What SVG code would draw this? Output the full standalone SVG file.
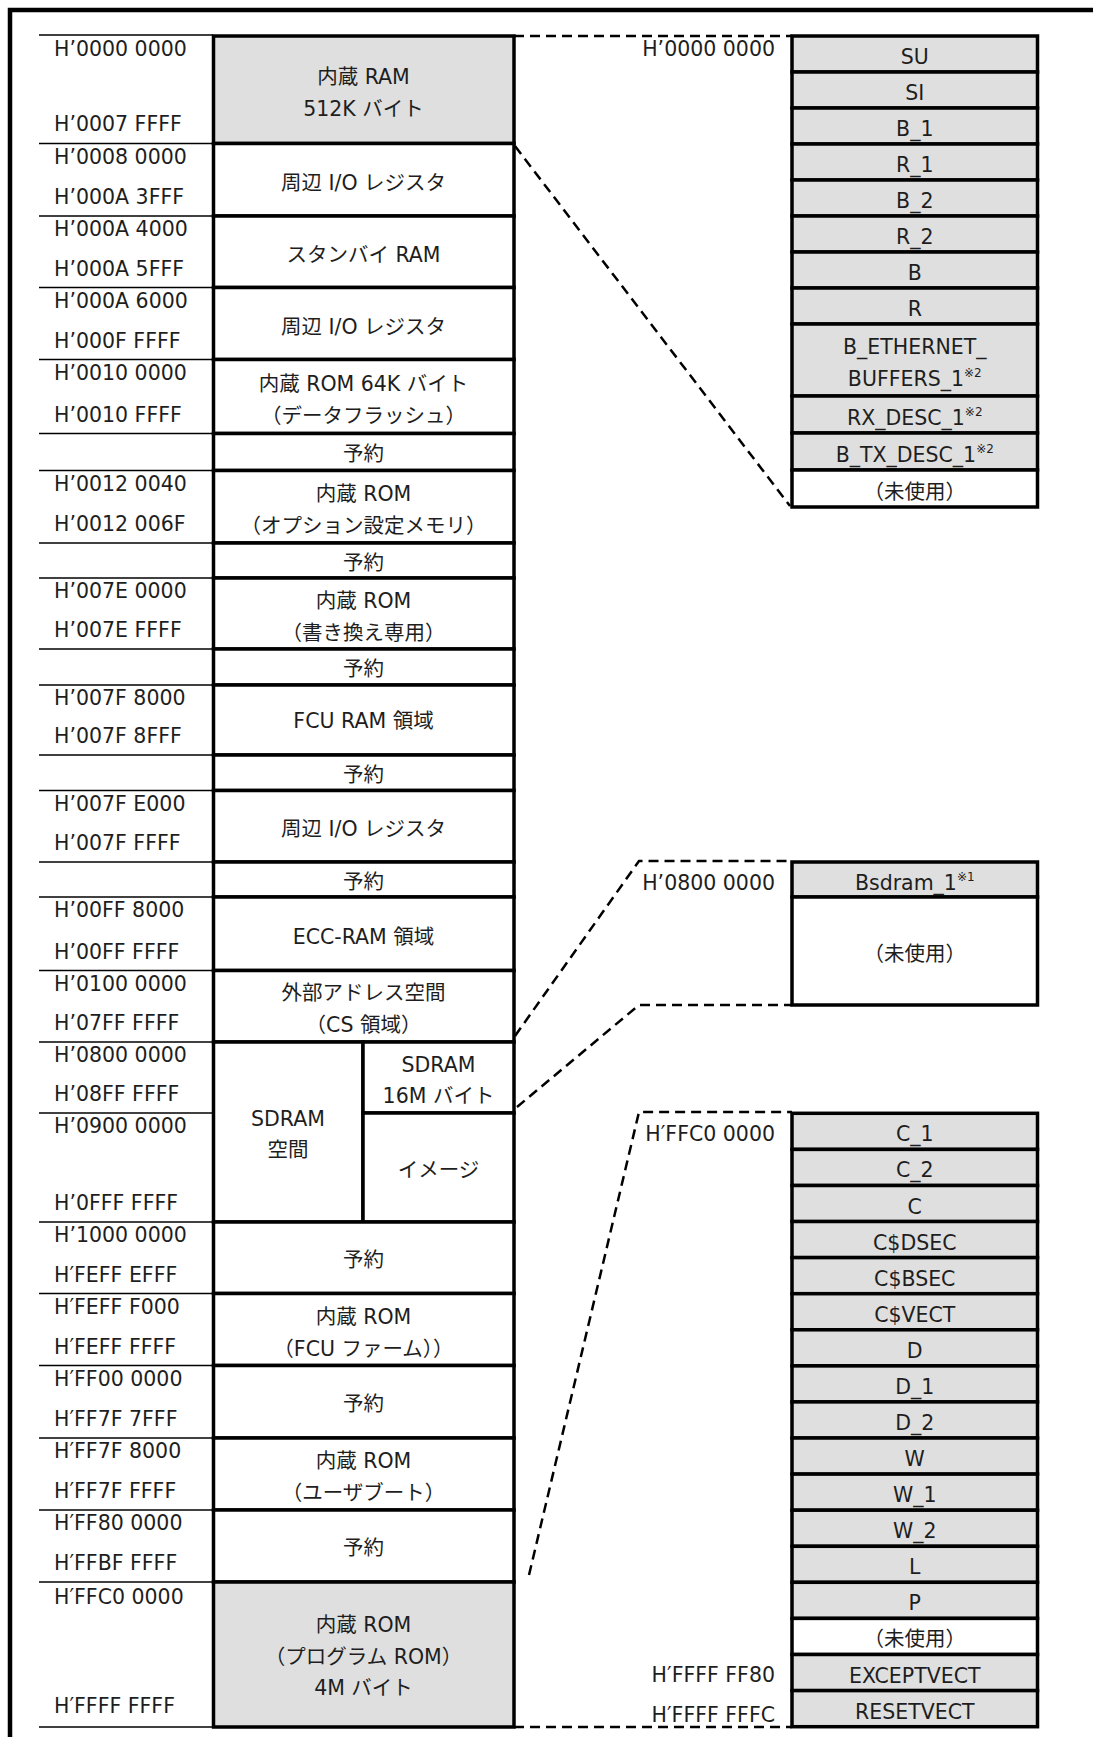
<svg xmlns="http://www.w3.org/2000/svg" width="1093" height="1737" viewBox="0 0 1093 1737">
<style>
.t{font-family:"DejaVu Sans","Noto Sans CJK JP",sans-serif;font-size:20.5px;fill:#1e1e1e}
.c{text-anchor:middle}
.r{text-anchor:end}
.b{stroke:#000;stroke-width:3.5;fill:#fff}
.g{fill:#dfdfdf}
.pl{stroke:#000;stroke-width:1.6}
.al{stroke:#000;stroke-width:1.4}
.d{stroke:#000;stroke-width:2.5;stroke-dasharray:10 6;fill:none}
.s{font-size:12px}
</style>
<rect width="1093" height="1737" fill="#fff"/>
<path d="M10,1740 V10 H1096" fill="none" stroke="#000" stroke-width="4.5"/>

<g id="address-lines">
<line class="al" x1="39" x2="213" y1="35" y2="35"/>
<line class="al" x1="39" x2="213" y1="143.5" y2="143.5"/>
<line class="al" x1="39" x2="213" y1="216" y2="216"/>
<line class="al" x1="39" x2="213" y1="287.5" y2="287.5"/>
<line class="al" x1="39" x2="213" y1="359.5" y2="359.5"/>
<line class="al" x1="39" x2="213" y1="433.5" y2="433.5"/>
<line class="al" x1="39" x2="213" y1="470.5" y2="470.5"/>
<line class="al" x1="39" x2="213" y1="543" y2="543"/>
<line class="al" x1="39" x2="213" y1="578" y2="578"/>
<line class="al" x1="39" x2="213" y1="649" y2="649"/>
<line class="al" x1="39" x2="213" y1="685" y2="685"/>
<line class="al" x1="39" x2="213" y1="755" y2="755"/>
<line class="al" x1="39" x2="213" y1="790.5" y2="790.5"/>
<line class="al" x1="39" x2="213" y1="862" y2="862"/>
<line class="al" x1="39" x2="213" y1="897" y2="897"/>
<line class="al" x1="39" x2="213" y1="970.5" y2="970.5"/>
<line class="al" x1="39" x2="213" y1="1042" y2="1042"/>
<line class="al" x1="39" x2="213" y1="1113" y2="1113"/>
<line class="al" x1="39" x2="213" y1="1222" y2="1222"/>
<line class="al" x1="39" x2="213" y1="1293.5" y2="1293.5"/>
<line class="al" x1="39" x2="213" y1="1365.5" y2="1365.5"/>
<line class="al" x1="39" x2="213" y1="1438" y2="1438"/>
<line class="al" x1="39" x2="213" y1="1510" y2="1510"/>
<line class="al" x1="39" x2="213" y1="1582" y2="1582"/>
<line class="al" x1="39" x2="213" y1="1727" y2="1727"/>
</g>

<g id="address-labels" class="t">
<text x="54" y="56">H’0000 0000</text><text x="54" y="131">H’0007 FFFF</text>
<text x="54" y="163.5">H’0008 0000</text><text x="54" y="204">H’000A 3FFF</text>
<text x="54" y="236">H’000A 4000</text><text x="54" y="275.5">H’000A 5FFF</text>
<text x="54" y="307.5">H’000A 6000</text><text x="54" y="347.5">H’000F FFFF</text>
<text x="54" y="379.5">H’0010 0000</text><text x="54" y="421.5">H’0010 FFFF</text>
<text x="54" y="491">H’0012 0040</text><text x="54" y="531">H’0012 006F</text>
<text x="54" y="598">H’007E 0000</text><text x="54" y="637">H’007E FFFF</text>
<text x="54" y="705">H’007F 8000</text><text x="54" y="743">H’007F 8FFF</text>
<text x="54" y="810.5">H’007F E000</text><text x="54" y="850">H’007F FFFF</text>
<text x="54" y="917">H’00FF 8000</text><text x="54" y="958.5">H’00FF FFFF</text>
<text x="54" y="990.5">H’0100 0000</text><text x="54" y="1030">H’07FF FFFF</text>
<text x="54" y="1062">H’0800 0000</text><text x="54" y="1101">H’08FF FFFF</text>
<text x="54" y="1133">H’0900 0000</text><text x="54" y="1210">H’0FFF FFFF</text>
<text x="54" y="1242">H’1000 0000</text><text x="54" y="1281.5">H′FEFF EFFF</text>
<text x="54" y="1313.5">H′FEFF F000</text><text x="54" y="1353.5">H′FEFF FFFF</text>
<text x="54" y="1385.5">H′FF00 0000</text><text x="54" y="1426">H′FF7F 7FFF</text>
<text x="54" y="1458">H′FF7F 8000</text><text x="54" y="1498">H′FF7F FFFF</text>
<text x="54" y="1530">H′FF80 0000</text><text x="54" y="1570">H′FFBF FFFF</text>
<text x="54" y="1604">H′FFC0 0000</text><text x="54" y="1713">H′FFFF FFFF</text>
</g>

<g id="connectors">
<path class="d" d="M514,36 H792"/>
<path class="d" d="M515,146 L790,506"/>
<path class="d" d="M515,1036 L639,861 H792"/>
<path class="d" d="M517,1107 L639,1005 H792"/>
<path class="d" d="M529,1575 L639,1112 H792"/>
<path class="d" d="M514,1727 H792"/>
</g>

<g id="main-map" class="t">
<g id="m-ram"><rect class="b g" x="213.5" y="36" width="300.5" height="107.5"/><text class="c" x="363.5" y="83.75">内蔵 RAM</text><text class="c" x="363.5" y="115.75">512K バイト</text></g>
<g id="m-io1"><rect class="b" x="213.5" y="143.5" width="300.5" height="72.5"/><text class="c" x="363.5" y="189.75">周辺 I/O レジスタ</text></g>
<g id="m-sbram"><rect class="b" x="213.5" y="216" width="300.5" height="71.5"/><text class="c" x="363.5" y="261.75">スタンバイ RAM</text></g>
<g id="m-io2"><rect class="b" x="213.5" y="287.5" width="300.5" height="72"/><text class="c" x="363.5" y="333.5">周辺 I/O レジスタ</text></g>
<g id="m-dflash"><rect class="b" x="213.5" y="359.5" width="300.5" height="74"/><text class="c" x="363.5" y="390.5">内蔵 ROM 64K バイト</text><text class="c" x="363.5" y="422.5">（データフラッシュ）</text></g>
<g id="m-rsv1"><rect class="b" x="213.5" y="433.5" width="300.5" height="37"/><text class="c" x="363.5" y="461">予約</text></g>
<g id="m-opt"><rect class="b" x="213.5" y="470.5" width="300.5" height="72.5"/><text class="c" x="363.5" y="500.75">内蔵 ROM</text><text class="c" x="363.5" y="532.75">（オプション設定メモリ）</text></g>
<g id="m-rsv2"><rect class="b" x="213.5" y="543" width="300.5" height="35"/><text class="c" x="363.5" y="569.5">予約</text></g>
<g id="m-rewrite"><rect class="b" x="213.5" y="578" width="300.5" height="71"/><text class="c" x="363.5" y="607.5">内蔵 ROM</text><text class="c" x="363.5" y="639.5">（書き換え専用）</text></g>
<g id="m-rsv3"><rect class="b" x="213.5" y="649" width="300.5" height="36"/><text class="c" x="363.5" y="676">予約</text></g>
<g id="m-fcuram"><rect class="b" x="213.5" y="685" width="300.5" height="70"/><text class="c" x="363.5" y="728">FCU RAM 領域</text></g>
<g id="m-rsv4"><rect class="b" x="213.5" y="755" width="300.5" height="35.5"/><text class="c" x="363.5" y="781.5">予約</text></g>
<g id="m-io3"><rect class="b" x="213.5" y="790.5" width="300.5" height="71.5"/><text class="c" x="363.5" y="836">周辺 I/O レジスタ</text></g>
<g id="m-rsv5"><rect class="b" x="213.5" y="862" width="300.5" height="35"/><text class="c" x="363.5" y="888.5">予約</text></g>
<g id="m-ecc"><rect class="b" x="213.5" y="897" width="300.5" height="73.5"/><text class="c" x="363.5" y="943.5">ECC-RAM 領域</text></g>
<g id="m-ext"><rect class="b" x="213.5" y="970.5" width="300.5" height="71.5"/><text class="c" x="363.5" y="999.5">外部アドレス空間</text><text class="c" x="363.5" y="1031.5">（CS 領域）</text></g>
<g id="m-sdram"><rect class="b" x="213.5" y="1042" width="149.5" height="180"/><text class="c" x="288" y="1126">SDRAM</text><text class="c" x="288" y="1157">空間</text></g>
<g id="m-sdram16"><rect class="b" x="363" y="1042" width="151" height="71"/><text class="c" x="438.5" y="1071.5">SDRAM</text><text class="c" x="438.5" y="1103">16M バイト</text></g>
<g id="m-image"><rect class="b" x="363" y="1113" width="151" height="109"/><text class="c" x="438.5" y="1176.5">イメージ</text></g>
<g id="m-rsv6"><rect class="b" x="213.5" y="1222" width="300.5" height="71.5"/><text class="c" x="363.5" y="1267">予約</text></g>
<g id="m-fcufw"><rect class="b" x="213.5" y="1293.5" width="300.5" height="72"/><text class="c" x="363.5" y="1323.5">内蔵 ROM</text><text class="c" x="363.5" y="1356">（FCU ファーム））</text></g>
<g id="m-rsv7"><rect class="b" x="213.5" y="1365.5" width="300.5" height="72.5"/><text class="c" x="363.5" y="1410.5">予約</text></g>
<g id="m-uboot"><rect class="b" x="213.5" y="1438" width="300.5" height="72"/><text class="c" x="363.5" y="1467.5">内蔵 ROM</text><text class="c" x="363.5" y="1500">（ユーザブート）</text></g>
<g id="m-rsv8"><rect class="b" x="213.5" y="1510" width="300.5" height="72"/><text class="c" x="363.5" y="1554.5">予約</text></g>
<g id="m-prog"><rect class="b g" x="213.5" y="1582" width="300.5" height="145"/><text class="c" x="363.5" y="1632">内蔵 ROM</text><text class="c" x="363.5" y="1664">（プログラム ROM）</text><text class="c" x="363.5" y="1695">4M バイト</text></g>
</g>

<g id="ram-sections" class="t">
<text class="r" x="775" y="56">H’0000 0000</text>
<g id="p1-su"><rect class="b g" x="792" y="36" width="245.5" height="36"/><text class="c" x="914.75" y="64">SU</text></g>
<g id="p1-si"><rect class="b g" x="792" y="72" width="245.5" height="36"/><text class="c" x="914.75" y="100">SI</text></g>
<g id="p1-b1"><rect class="b g" x="792" y="108" width="245.5" height="36"/><text class="c" x="914.75" y="136">B_1</text></g>
<g id="p1-r1"><rect class="b g" x="792" y="144" width="245.5" height="36"/><text class="c" x="914.75" y="172">R_1</text></g>
<g id="p1-b2"><rect class="b g" x="792" y="180" width="245.5" height="36"/><text class="c" x="914.75" y="208">B_2</text></g>
<g id="p1-r2"><rect class="b g" x="792" y="216" width="245.5" height="36"/><text class="c" x="914.75" y="244">R_2</text></g>
<g id="p1-b"><rect class="b g" x="792" y="252" width="245.5" height="36"/><text class="c" x="914.75" y="280">B</text></g>
<g id="p1-r"><rect class="b g" x="792" y="288" width="245.5" height="36"/><text class="c" x="914.75" y="316">R</text></g>
<g id="p1-eth"><rect class="b g" x="792" y="324" width="245.5" height="72"/><text class="c" x="914.75" y="354">B_ETHERNET_</text><text class="c" x="914.75" y="386">BUFFERS_1<tspan class="s" dy="-9">※2</tspan></text></g>
<g id="p1-rx"><rect class="b g" x="792" y="396" width="245.5" height="37"/><text class="c" x="914.75" y="424.5">RX_DESC_1<tspan class="s" dy="-9">※2</tspan></text></g>
<g id="p1-tx"><rect class="b g" x="792" y="433" width="245.5" height="37"/><text class="c" x="914.75" y="461.5">B_TX_DESC_1<tspan class="s" dy="-9">※2</tspan></text></g>
<g id="p1-unused"><rect class="b" x="792" y="470" width="245.5" height="37"/><text class="c" x="914.75" y="498.5">（未使用）</text></g>
</g>

<g id="sdram-sections" class="t">
<text class="r" x="775" y="890">H’0800 0000</text>
<g id="p2-bsdram"><rect class="b g" x="792" y="862" width="245.5" height="35"/><text class="c" x="914.75" y="889.5">Bsdram_1<tspan class="s" dy="-9">※1</tspan></text></g>
<g id="p2-unused"><rect class="b" x="792" y="897" width="245.5" height="108"/><text class="c" x="914.75" y="961">（未使用）</text></g>
</g>

<g id="rom-sections" class="t">
<text class="r" x="775" y="1141">H′FFC0 0000</text>
<text class="r" x="775" y="1682">H′FFFF FF80</text>
<text class="r" x="775" y="1721.5">H′FFFF FFFC</text>
<g id="p3-c1"><rect class="b g" x="792" y="1113.3" width="245.5" height="36.1"/><text class="c" x="914.75" y="1141.3">C_1</text></g>
<g id="p3-c2"><rect class="b g" x="792" y="1149.4" width="245.5" height="36.1"/><text class="c" x="914.75" y="1177.4">C_2</text></g>
<g id="p3-c"><rect class="b g" x="792" y="1185.5" width="245.5" height="36.1"/><text class="c" x="914.75" y="1213.5">C</text></g>
<g id="p3-cdsec"><rect class="b g" x="792" y="1221.5" width="245.5" height="36.1"/><text class="c" x="914.75" y="1249.5">C$DSEC</text></g>
<g id="p3-cbsec"><rect class="b g" x="792" y="1257.6" width="245.5" height="36.1"/><text class="c" x="914.75" y="1285.6">C$BSEC</text></g>
<g id="p3-cvect"><rect class="b g" x="792" y="1293.7" width="245.5" height="36.1"/><text class="c" x="914.75" y="1321.7">C$VECT</text></g>
<g id="p3-d"><rect class="b g" x="792" y="1329.8" width="245.5" height="36.1"/><text class="c" x="914.75" y="1357.8">D</text></g>
<g id="p3-d1"><rect class="b g" x="792" y="1365.9" width="245.5" height="36.1"/><text class="c" x="914.75" y="1393.9">D_1</text></g>
<g id="p3-d2"><rect class="b g" x="792" y="1401.9" width="245.5" height="36.1"/><text class="c" x="914.75" y="1429.9">D_2</text></g>
<g id="p3-w"><rect class="b g" x="792" y="1438" width="245.5" height="36.1"/><text class="c" x="914.75" y="1466">W</text></g>
<g id="p3-w1"><rect class="b g" x="792" y="1474.1" width="245.5" height="36.1"/><text class="c" x="914.75" y="1502.1">W_1</text></g>
<g id="p3-w2"><rect class="b g" x="792" y="1510.2" width="245.5" height="36.1"/><text class="c" x="914.75" y="1538.2">W_2</text></g>
<g id="p3-l"><rect class="b g" x="792" y="1546.3" width="245.5" height="36.1"/><text class="c" x="914.75" y="1574.3">L</text></g>
<g id="p3-p"><rect class="b g" x="792" y="1582.3" width="245.5" height="36.1"/><text class="c" x="914.75" y="1610.3">P</text></g>
<g id="p3-unused"><rect class="b" x="792" y="1618.4" width="245.5" height="36.1"/><text class="c" x="914.75" y="1646.4">（未使用）</text></g>
<g id="p3-except"><rect class="b g" x="792" y="1654.5" width="245.5" height="36.1"/><text class="c" x="914.75" y="1682.5">EXCEPTVECT</text></g>
<g id="p3-reset"><rect class="b g" x="792" y="1690.6" width="245.5" height="36.1"/><text class="c" x="914.75" y="1718.5">RESETVECT</text></g>
</g>
</svg>
